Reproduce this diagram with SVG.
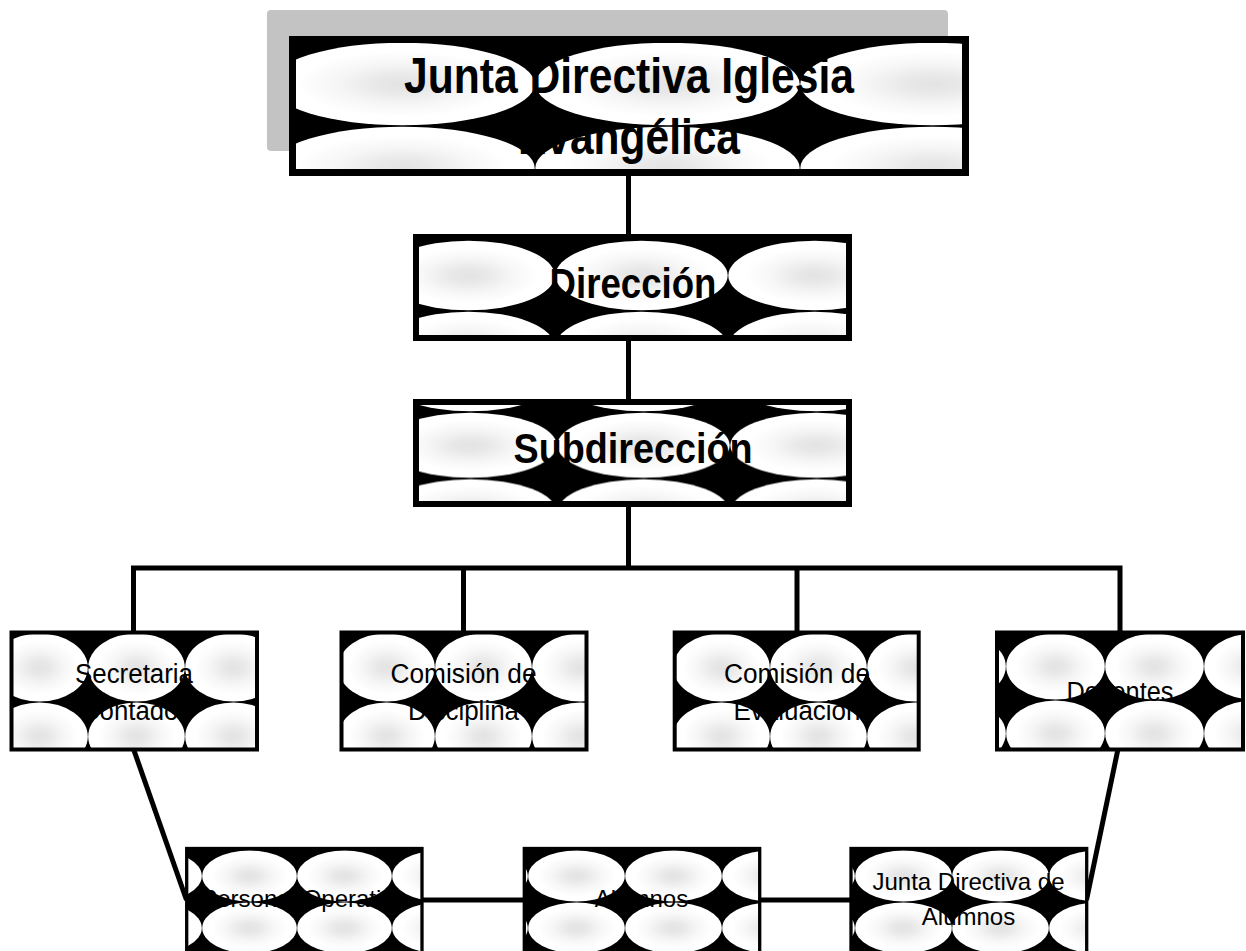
<svg xmlns="http://www.w3.org/2000/svg" width="1246" height="951" viewBox="0 0 1246 951">
<style>
.b1{stroke:#000;stroke-width:7}
.b2{stroke:#000;stroke-width:6}
.b3{stroke:#000;stroke-width:4}
.b4{stroke:#000;stroke-width:3.3}
.tb{font-family:"Liberation Sans",Arial,sans-serif;font-weight:bold;fill:#000;text-anchor:middle}
.tn{font-family:"Liberation Sans",Arial,sans-serif;fill:#000;text-anchor:middle}
.c{stroke:#000;stroke-width:5;fill:none}
</style>
<defs>
<radialGradient id="g">
<stop offset="0" stop-color="#e3e3e3"/>
<stop offset="0.2" stop-color="#e8e8e8"/>
<stop offset="0.5" stop-color="#f6f6f6"/>
<stop offset="0.8" stop-color="#ffffff"/>
<stop offset="1" stop-color="#ffffff"/>
</radialGradient>
<pattern id="p0" patternUnits="userSpaceOnUse" x="535" y="126" width="265" height="84"><rect width="265" height="84" fill="#000"/><ellipse cx="132.5" cy="42" rx="132.2" ry="41.3" fill="url(#g)"/></pattern>
<pattern id="p1" patternUnits="userSpaceOnUse" x="555" y="240" width="173" height="71"><rect width="173" height="71" fill="#000"/><ellipse cx="86.5" cy="35.5" rx="86.2" ry="34.8" fill="url(#g)"/></pattern>
<pattern id="p2" patternUnits="userSpaceOnUse" x="557" y="412" width="173" height="66.5"><rect width="173" height="66.5" fill="#000"/><ellipse cx="86.5" cy="33.25" rx="86.2" ry="32.6" fill="url(#g)"/></pattern>
<pattern id="p3" patternUnits="userSpaceOnUse" x="88" y="702" width="97" height="69"><rect width="97" height="69" fill="#000"/><ellipse cx="48.5" cy="34.5" rx="48.3" ry="34" fill="url(#g)"/></pattern>
<pattern id="p4" patternUnits="userSpaceOnUse" x="435" y="702" width="97" height="69"><rect width="97" height="69" fill="#000"/><ellipse cx="48.5" cy="34.5" rx="48.3" ry="34" fill="url(#g)"/></pattern>
<pattern id="p5" patternUnits="userSpaceOnUse" x="770" y="702" width="97" height="69"><rect width="97" height="69" fill="#000"/><ellipse cx="48.5" cy="34.5" rx="48.3" ry="34" fill="url(#g)"/></pattern>
<pattern id="p6" patternUnits="userSpaceOnUse" x="1105" y="700" width="99" height="67"><rect width="99" height="67" fill="#000"/><ellipse cx="49.5" cy="33.5" rx="49.3" ry="33" fill="url(#g)"/></pattern>
<pattern id="p7" patternUnits="userSpaceOnUse" x="202" y="902" width="95" height="52"><rect width="95" height="52" fill="#000"/><ellipse cx="47.5" cy="26" rx="47.3" ry="25.5" fill="url(#g)"/></pattern>
<pattern id="p8" patternUnits="userSpaceOnUse" x="625" y="902" width="97" height="52"><rect width="97" height="52" fill="#000"/><ellipse cx="48.5" cy="26" rx="48.3" ry="25.5" fill="url(#g)"/></pattern>
<pattern id="p9" patternUnits="userSpaceOnUse" x="952" y="902" width="97" height="52"><rect width="97" height="52" fill="#000"/><ellipse cx="48.5" cy="26" rx="48.3" ry="25.5" fill="url(#g)"/></pattern>
</defs>

<g id="connectors">
<line class="c" x1="628.5" y1="176" x2="628.5" y2="237"/>
<line class="c" x1="628.5" y1="338" x2="628.5" y2="402"/>
<line class="c" x1="628.5" y1="504" x2="628.5" y2="568"/>
<polyline class="c" points="133.5,633 133.5,568 1120,568 1120,633"/>
<line class="c" x1="463.5" y1="568" x2="463.5" y2="633"/>
<line class="c" x1="797" y1="568" x2="797" y2="633"/>
<line class="c" x1="133.5" y1="749" x2="186.5" y2="900"/>
<line class="c" x1="1118" y1="749" x2="1086.5" y2="900"/>
<line class="c" x1="422" y1="900" x2="524.3" y2="900"/>
<line class="c" x1="759.7" y1="900" x2="851" y2="900"/>
</g>

<g id="n-junta-iglesia">
<rect x="267" y="10" width="681" height="141" rx="4" fill="#c3c3c3"/>
<rect class="b1" x="292.5" y="39.5" width="673" height="133" fill="url(#p0)"/>
<text class="tb" font-size="50" x="629" y="93" textLength="450" lengthAdjust="spacingAndGlyphs">Junta Directiva Iglesia</text>
<text class="tb" font-size="50" x="629" y="154" textLength="222" lengthAdjust="spacingAndGlyphs">Evangélica</text>
</g>

<g id="n-direccion">
<rect class="b2" x="416" y="237" width="433" height="101" fill="url(#p1)"/>
<text class="tb" font-size="42" x="633" y="298" textLength="167" lengthAdjust="spacingAndGlyphs">Dirección</text>
</g>

<g id="n-subdireccion">
<rect class="b2" x="416" y="402" width="433" height="102" fill="url(#p2)"/>
<text class="tb" font-size="42" x="633" y="463" textLength="239" lengthAdjust="spacingAndGlyphs">Subdirección</text>
</g>

<g id="n-secretaria">
<rect class="b3" x="11.5" y="632.5" width="245.5" height="117" fill="url(#p3)"/>
<text class="tn" font-size="27" x="134" y="683" textLength="118" lengthAdjust="spacingAndGlyphs">Secretaria</text>
<text class="tn" font-size="27" x="134" y="720" textLength="106" lengthAdjust="spacingAndGlyphs">Contador</text>
</g>

<g id="n-disciplina">
<rect class="b3" x="341.5" y="632.5" width="245" height="117" fill="url(#p4)"/>
<text class="tn" font-size="27" x="463.5" y="683" textLength="146" lengthAdjust="spacingAndGlyphs">Comisión de</text>
<text class="tn" font-size="27" x="463.5" y="720" textLength="111" lengthAdjust="spacingAndGlyphs">Disciplina</text>
</g>

<g id="n-evaluacion">
<rect class="b3" x="674.7" y="632.5" width="244" height="117" fill="url(#p5)"/>
<text class="tn" font-size="27" x="797" y="683" textLength="146" lengthAdjust="spacingAndGlyphs">Comisión de</text>
<text class="tn" font-size="27" x="797" y="720" textLength="127" lengthAdjust="spacingAndGlyphs">Evaluación</text>
</g>

<g id="n-docentes">
<rect class="b3" x="997" y="632.5" width="246" height="117" fill="url(#p6)"/>
<text class="tn" font-size="27" x="1120" y="701" textLength="107" lengthAdjust="spacingAndGlyphs">Docentes</text>
</g>

<g id="n-personal">
<rect class="b4" x="186.7" y="848.5" width="235.3" height="120" fill="url(#p7)"/>
<text class="tn" font-size="24" x="304" y="907">Personal Operativo</text>
</g>

<g id="n-alumnos">
<rect class="b4" x="524.3" y="848.5" width="235.4" height="120" fill="url(#p8)"/>
<text class="tn" font-size="24" x="641.5" y="907">Alumnos</text>
</g>

<g id="n-junta-alumnos">
<rect class="b4" x="851" y="848.5" width="235.7" height="120" fill="url(#p9)"/>
<text class="tn" font-size="24" x="968.5" y="890">Junta Directiva de</text>
<text class="tn" font-size="24" x="968.5" y="925">Alumnos</text>
</g>
</svg>
